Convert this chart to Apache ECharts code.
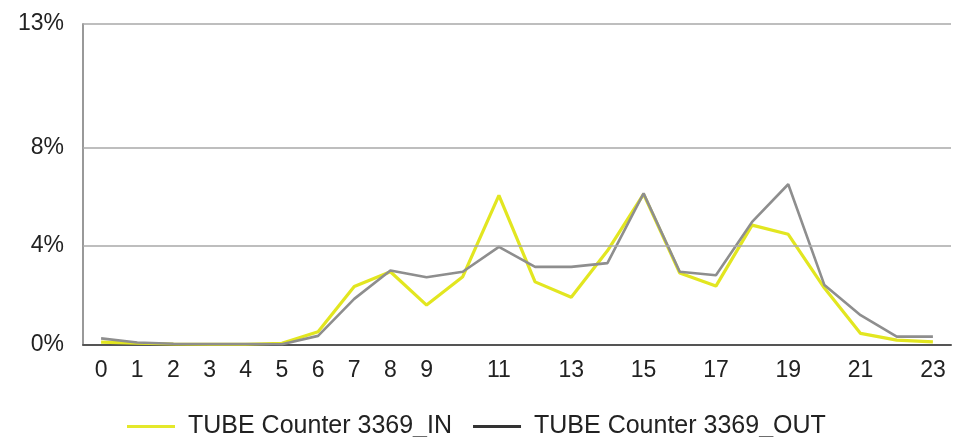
<!DOCTYPE html>
<html>
<head>
<meta charset="utf-8">
<script src="https://cdn.jsdelivr.net/npm/echarts@6/dist/echarts.min.js"></script>
<style>
html,body{margin:0;padding:0;background:#fff;}
#chart{width:963px;height:437px;}
</style>
</head>
<body>
<div id="chart"></div>
<script>
var hours = ['0','1','2','3','4','5','6','7','8','9','10','11','12','13','14','15','16','17','18','19','20','21','22','23'];
var seriesInName = 'TUBE Counter 3369_IN';
var seriesOutName = 'TUBE Counter 3369_OUT';
var inValues = [0.1,0.05,0.02,0.01,0.01,0.05,0.52,2.35,2.95,1.6,2.75,6.05,2.54,1.92,3.8,6.1,2.9,2.37,4.84,4.47,2.29,0.45,0.18,0.11];
var outValues = [0.25,0.08,0.03,0.02,0.02,0.01,0.35,1.85,3.0,2.73,2.95,3.96,3.15,3.15,3.3,6.13,2.95,2.81,4.97,6.5,2.41,1.19,0.32,0.32];
var yTicks = [0, 4, 8, 13];

var chart = echarts.init(document.getElementById('chart'), null, {renderer: 'canvas'});
var font = 'Liberation Sans, Arial, sans-serif';
chart.setOption({
  animation: false,
  backgroundColor: '#ffffff',
  grid: {left: 83, right: 12, top: 24, bottom: 92.5, containLabel: false},
  legend: {
    left: 122, top: 409,
    itemWidth: 48, itemHeight: 3, itemGap: 21,
    icon: 'rect',
    textStyle: {fontFamily: font, fontSize: 25, color: '#222', padding: [0, 0, 0, 8]},
    data: [
      {name: seriesInName, itemStyle: {color: '#e4e82a'}},
      {name: seriesOutName, itemStyle: {color: '#333333'}}
    ]
  },
  xAxis: {
    type: 'category',
    data: hours,
    boundaryGap: true,
    axisLine: {show: true, lineStyle: {color: '#555', width: 2}},
    axisTick: {show: false},
    axisLabel: {
      fontFamily: font, fontSize: 23, color: '#222', margin: 15,
      interval: function (i) { return i <= 9 || i % 2 === 1; }
    },
    splitLine: {show: false}
  },
  yAxis: {
    type: 'value',
    min: 0, max: 13, interval: 1,
    axisLine: {show: true, lineStyle: {color: '#999', width: 2}},
    axisTick: {show: false},
    axisLabel: {
      fontFamily: font, fontSize: 23, color: '#222', margin: 19,
      formatter: function (v) { return yTicks.indexOf(v) >= 0 ? v + '%' : ''; }
    },
    splitLine: {show: false}
  },
  series: [
    {
      name: seriesInName, type: 'line', data: inValues,
      symbol: 'none', smooth: false,
      lineStyle: {color: '#e2e620', width: 3.2},
      itemStyle: {color: '#e2e620'},
      z: 3,
      markLine: {
        silent: true, symbol: 'none', label: {show: false},
        lineStyle: {color: '#a8a8a8', width: 1.5, type: 'solid'},
        data: yTicks.filter(function (t) { return t > 0; }).map(function (t) { return {yAxis: t}; })
      }
    },
    {
      name: seriesOutName, type: 'line', data: outValues,
      symbol: 'none', smooth: false,
      lineStyle: {color: '#8e8e8e', width: 2.6},
      itemStyle: {color: '#8e8e8e'},
      z: 4
    }
  ]
});
</script>
</body>
</html>
